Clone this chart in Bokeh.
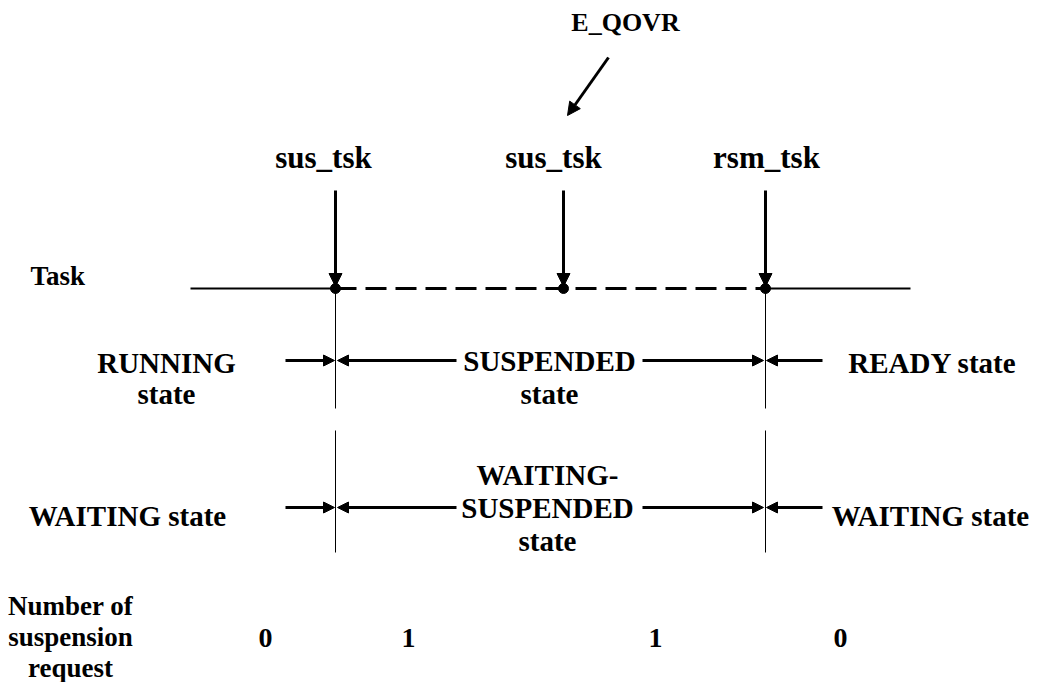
from bokeh.plotting import figure
from bokeh.models import Range1d, Arrow, NormalHead
from bokeh.core.properties import value
from bokeh.embed import file_html
from bokeh.resources import INLINE

# ---- data ----
event_names = ["sus_tsk", "sus_tsk", "rsm_tsk"]
event_t = [335, 563, 765]          # time position of each service call
error_label = "E_QOVR"
row_titles = ["Task"]
state_left = ["RUNNING\nstate", "WAITING state"]
state_mid = ["SUSPENDED\nstate", "WAITING-\nSUSPENDED\nstate"]
state_right = ["READY state", "WAITING state"]
count_title = ["Number of", "suspension", "request"]
count_values = ["0", "1", "1", "0"]
count_t = [265, 408, 655, 840]

FONT = value("Liberation Serif")
W, H = 1043, 682

p = figure(width=W, height=H, output_backend="svg", toolbar_location=None,
           x_range=Range1d(0, W), y_range=Range1d(H, 0),
           min_border=0, background_fill_color="white", border_fill_color="white")
p.axis.visible = False
p.grid.visible = False
p.outline_line_color = None


def txt(x, y, s, size="29px", align="center", baseline="middle"):
    p.text(x=[x], y=[y], text=[s], text_font=FONT, text_font_size=size,
           text_font_style="bold", text_align=align, text_baseline=baseline,
           text_color="black")


def arrow(x0, y0, x1, y1, lw=3, size=12):
    p.add_layout(Arrow(end=NormalHead(size=size, fill_color="black", line_color="black", line_width=1),
                       x_start=x0, y_start=y0, x_end=x1, y_end=y1,
                       line_width=lw, line_color="black"))


t1, t2, t3 = event_t
task_y = 288

# error annotation
txt(625, 22, error_label, size="26px")
arrow(608, 57, 567, 115, size=13)

# service call labels and arrows
label_x = [t1 - 12, t2 - 10, t3 + 1]
for nm, tx, lx in zip(event_names, event_t, label_x):
    txt(lx, 157, nm, size="31px")
    arrow(tx, 190, tx, task_y - 2, size=13)

# task line
txt(30, 275, row_titles[0], size="27px", align="left")
p.line([190, t1], [task_y, task_y], line_width=2, color="black")
p.line([t1, t3], [task_y, task_y], line_width=3, color="black", line_dash="21 9")
p.line([t3, 910], [task_y, task_y], line_width=2, color="black")
p.scatter(event_t, [task_y] * 3, size=10, color="black")

# thin vertical boundaries
for tx in (t1, t3):
    p.line([tx, tx], [task_y, 408], line_width=1, color="black")
    p.line([tx, tx], [430, 552], line_width=1, color="black")

# state rows
rows = [(360, 362, 0), (507, 515, 1)]
for ay, ly, i in rows:
    arrow(285, ay, t1 - 1, ay, size=11)
    arrow(456, ay, t1 + 2, ay, size=11)
    arrow(642, ay, t3 - 2, ay, size=11)
    arrow(822, ay, t3 + 1, ay, size=11)
    left_lines = state_left[i].split("\n")
    mid_lines = state_mid[i].split("\n")
    if len(left_lines) == 2:
        txt(166, ly, left_lines[0])
        txt(166, ly + 31, left_lines[1])
    else:
        txt(127, ly, left_lines[0])
    if len(mid_lines) == 2:
        txt(549, ay, mid_lines[0])
        txt(549, ay + 33, mid_lines[1])
    else:
        txt(547, ay - 33, mid_lines[0])
        txt(547, ay, mid_lines[1])
        txt(547, ay + 33, mid_lines[2])
    rx = 932 if i == 0 else 930
    txt(rx, ly, state_right[i])

# suspension count row
for k, s in enumerate(count_title):
    txt(70, 605 + 31 * k, s, size="27px")
for cx, s in zip(count_t, count_values):
    txt(cx, 637, s, size="28px")

open("out.html", "w").write(file_html(p, INLINE))
